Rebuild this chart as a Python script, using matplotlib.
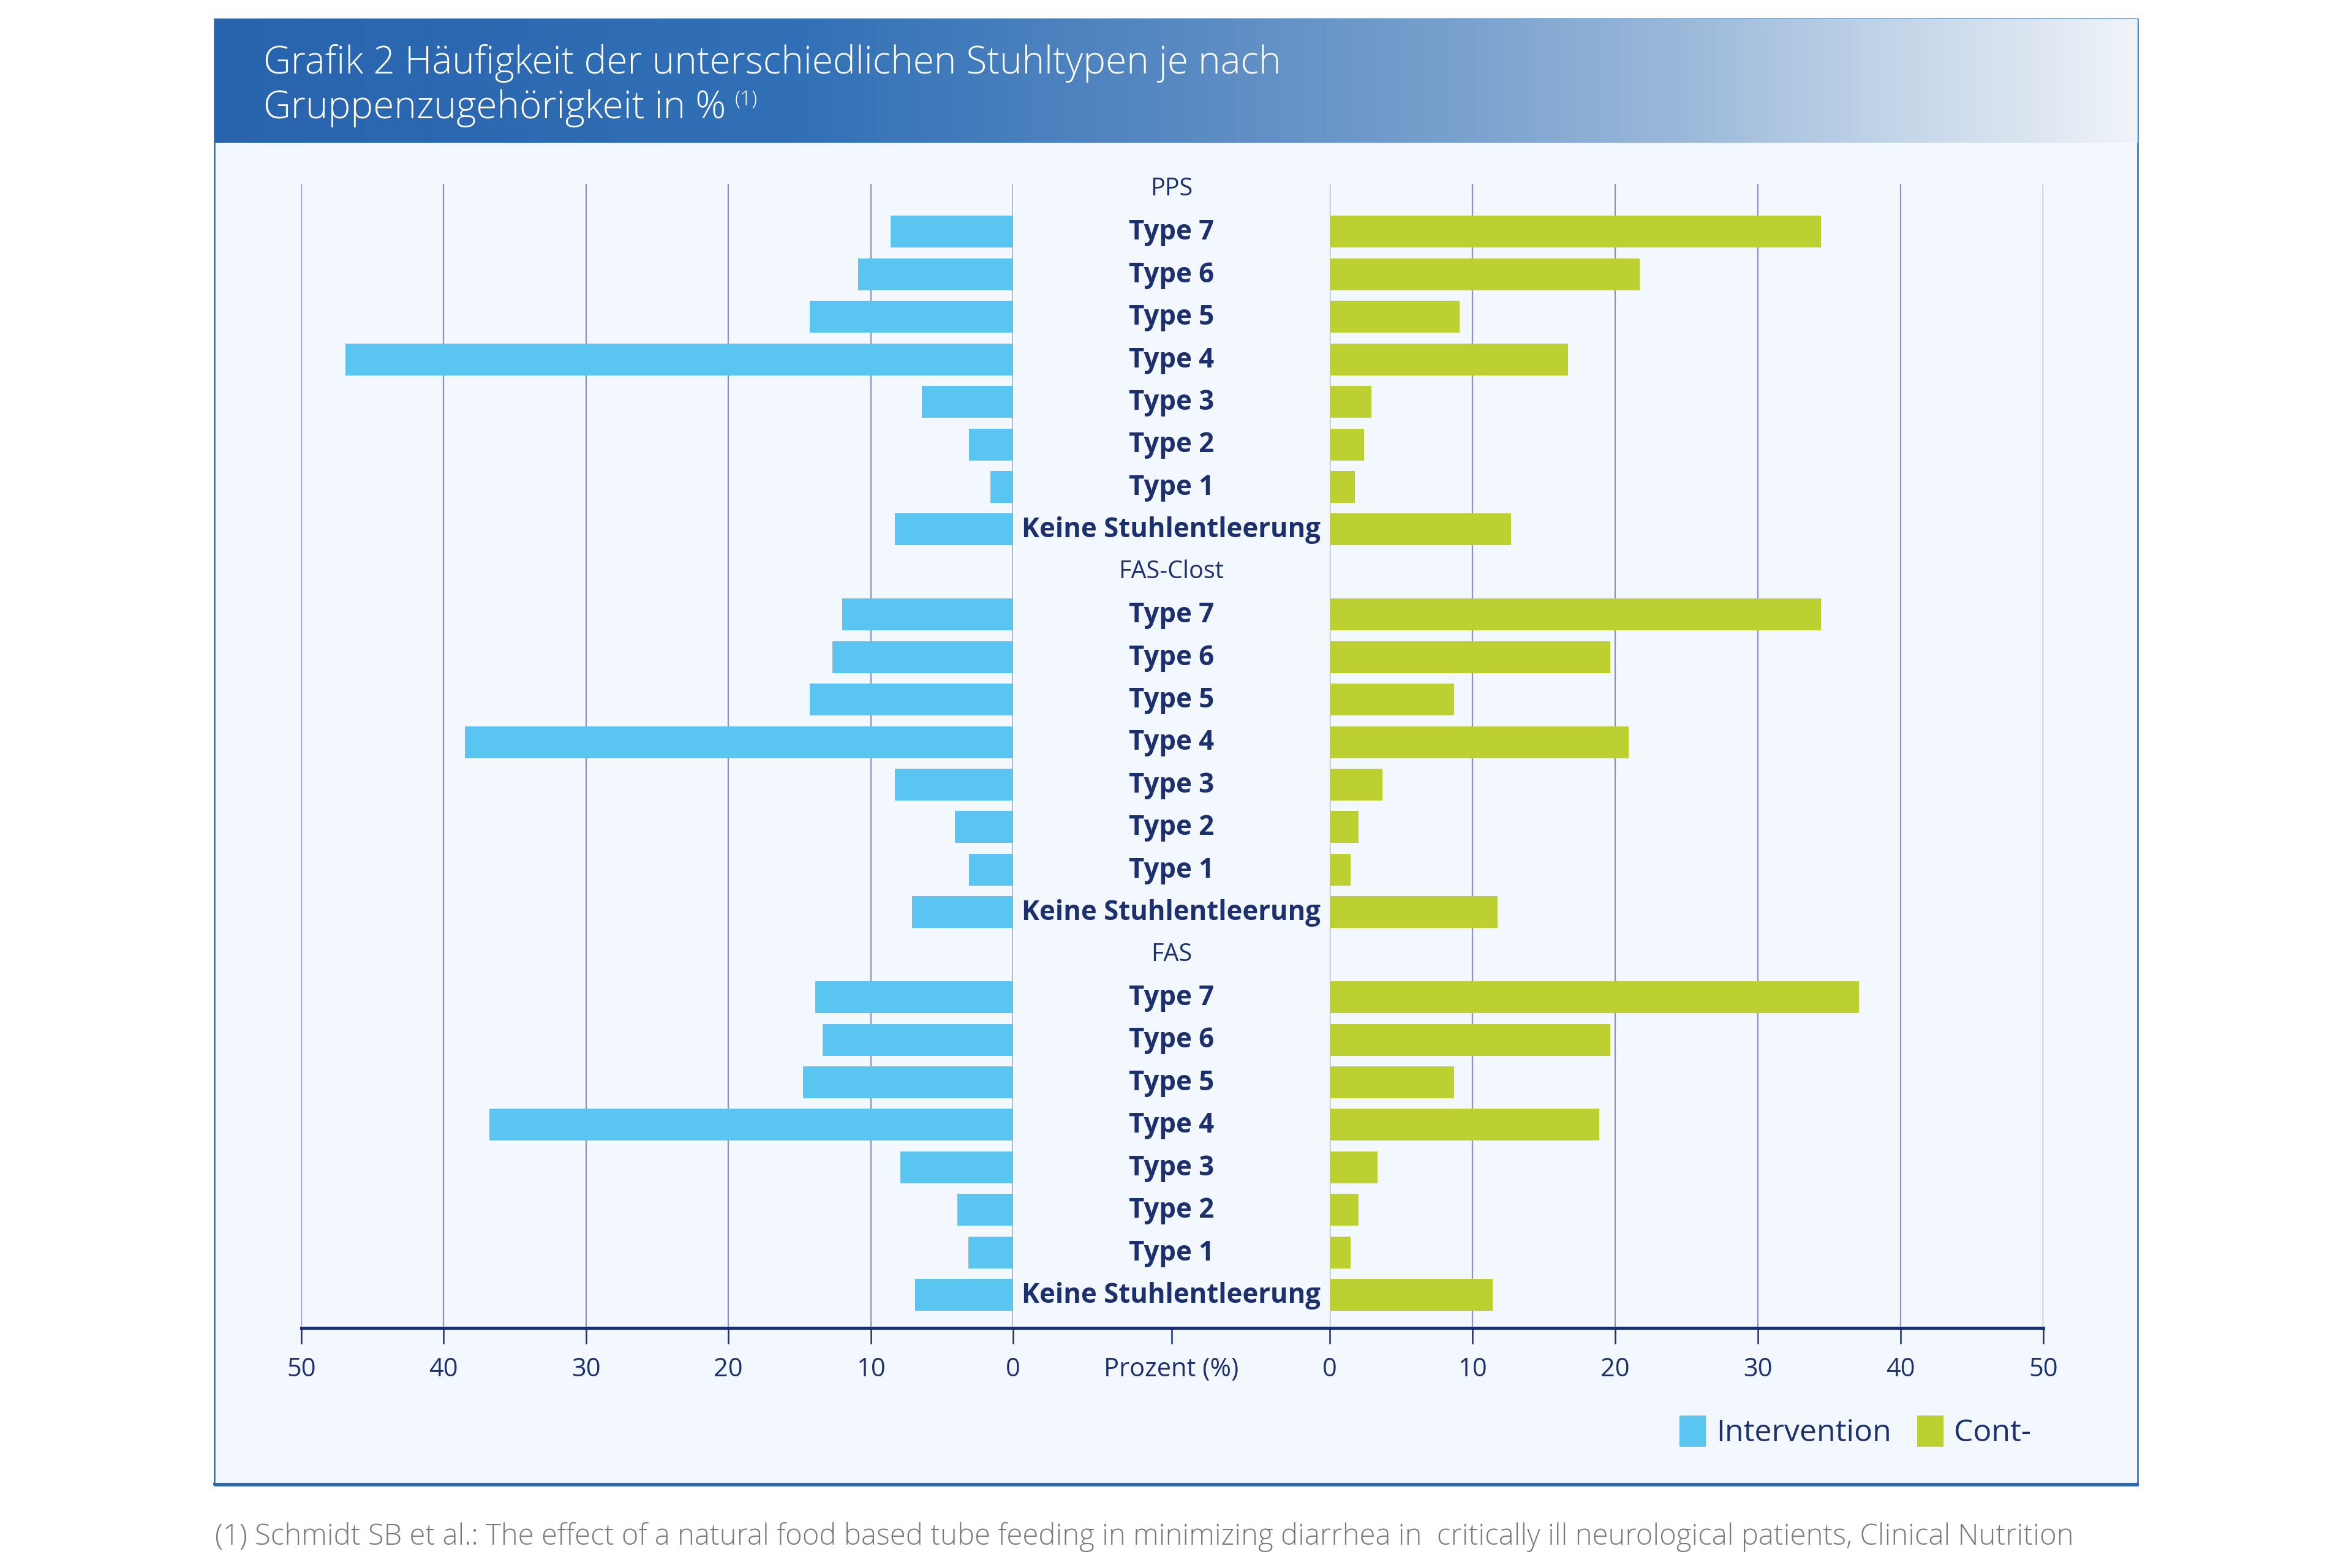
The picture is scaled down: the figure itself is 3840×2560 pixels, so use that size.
import numpy as np
import matplotlib
matplotlib.use("Agg")
import matplotlib.pyplot as plt
from matplotlib.colors import LinearSegmentedColormap
from matplotlib.patches import Rectangle, Patch
from matplotlib.lines import Line2D

# ---------------- data ----------------
groups = ["PPS", "FAS-Clost", "FAS"]
types = ["Type 7", "Type 6", "Type 5", "Type 4", "Type 3", "Type 2", "Type 1",
         "Keine Stuhlentleerung"]

intervention_pps = [8.6, 10.9, 14.3, 46.9, 6.4, 3.1, 1.6, 8.3]
control_pps = [34.4, 21.7, 9.1, 16.7, 2.9, 2.4, 1.75, 12.7]
intervention_fas_clost = [12.0, 12.7, 14.3, 38.5, 8.3, 4.1, 3.1, 7.1]
control_fas_clost = [34.4, 19.65, 8.7, 20.95, 3.7, 2.0, 1.45, 11.75]
intervention_fas = [13.9, 13.4, 14.75, 36.8, 7.9, 3.9, 3.15, 6.9]
control_fas = [37.1, 19.65, 8.7, 18.9, 3.35, 2.0, 1.45, 11.4]

x_ticks = [0, 10, 20, 30, 40, 50]
center_label = "Prozent (%)"
legend_labels = ["Intervention", "Cont-"]
title_line1 = "Grafik 2 Häufigkeit der unterschiedlichen Stuhltypen je nach"
title_line2 = "Gruppenzugehörigkeit in %"
title_ref = "(1)"
footnote = ("(1) Schmidt SB et al.: The effect of a natural food based tube feeding "
            "in minimizing diarrhea in  critically ill neurological patients, Clinical Nutrition")

# ---------------- style ----------------
FONT = "Open Sans"
NAVY = "#1c2f6e"
BLUE = "#5bc5f1"
GREEN = "#bdd031"
GRID = "#8d93c2"
BODY = "#f2f8fe"
FRAME = "#2c68b0"

W, H = 3840, 2560
fig = plt.figure(figsize=(W / 300, H / 300), dpi=300)
fig.patch.set_facecolor("white")


def fx(p):
    return p / W


def fy(p):
    return 1 - p / H


# body panel (drawn behind everything)
fig.patches.append(Rectangle((fx(350), fy(2425)), fx(3490) - fx(350), (2425 - 31) / H,
                             transform=fig.transFigure, facecolor=BODY,
                             edgecolor=FRAME, lw=0.6, zorder=-20))
fig.add_artist(Line2D([fx(350), fx(3490)], [fy(2423)] * 2, color=FRAME, lw=1.0,
                      transform=fig.transFigure, zorder=-19))

# header gradient
axh = fig.add_axes([fx(350), fy(233), fx(3490) - fx(350), (233 - 31) / H])
axh.set_zorder(-5)
cmap = LinearSegmentedColormap.from_list(
    "hdr", [(0, "#2963ae"), (0.3, "#3170b6"), (0.52, "#5b8cc3"), (0.67, "#7fa5d0"),
            (0.78, "#a0bcdc"), (0.89, "#c8d8ea"), (1.0, "#eff3f8")])
axh.imshow(np.linspace(0, 1, 512).reshape(1, -1), aspect="auto", cmap=cmap,
           extent=[0, 1, 0, 1])
axh.axis("off")

fig.text(fx(430), fy(120), title_line1, color="white", fontsize=14.9, family=FONT,
         weight="light", ha="left", va="baseline")
t2 = fig.text(fx(430), fy(193), title_line2, color="white", fontsize=14.9, family=FONT,
              weight="light", ha="left", va="baseline")
fig.canvas.draw()
bb = t2.get_window_extent()
fig.text(bb.x1 / W + fx(14), fy(172), title_ref, color="white", fontsize=8,
         family=FONT, weight="light", ha="left", va="baseline")

fig.text(fx(351), fy(2522), footnote, color="#7a7a7a", fontsize=11.33, family=FONT,
         weight="light", ha="left", va="baseline")

# ---------------- axes ----------------
y_top, y_bot = 300, 2168
row_h = 69.43
ylim = ((y_bot - 309) / row_h, -(309 - y_top) / row_h)

x_l0, x_l1 = 492, 1654
x_r0, x_r1 = 2171, 3336
ax_l = fig.add_axes([fx(x_l0), fy(y_bot), fx(x_l1) - fx(x_l0), (y_bot - y_top) / H])
ax_c = fig.add_axes([fx(x_l1), fy(y_bot), fx(x_r0) - fx(x_l1), (y_bot - y_top) / H])
ax_r = fig.add_axes([fx(x_r0), fy(y_bot), fx(x_r1) - fx(x_r0), (y_bot - y_top) / H])

series = [(intervention_pps, control_pps),
          (intervention_fas_clost, control_fas_clost),
          (intervention_fas, control_fas)]

for ax in (ax_l, ax_c, ax_r):
    ax.set_facecolor("none")
    ax.set_ylim(*ylim)
    for s in ("top", "left", "right"):
        ax.spines[s].set_visible(False)
    ax.spines["bottom"].set_color(NAVY)
    ax.spines["bottom"].set_linewidth(1.2)
    ax.tick_params(axis="x", direction="out", length=6.2, width=0.6, color=NAVY,
                   labelcolor=NAVY, labelsize=10, pad=5)
    ax.tick_params(axis="y", left=False, labelleft=False)
    ax.set_axisbelow(True)

ax_l.set_xlim(50, 0)
ax_r.set_xlim(0, 50)
ax_c.set_xlim(0, 1)
for ax in (ax_l, ax_r):
    ax.set_xticks(x_ticks)
    ax.set_xticklabels([str(v) for v in x_ticks])
    ax.grid(axis="x", color=GRID, lw=0.55)
ax_c.set_xticks([0.5])
ax_c.set_xticklabels([center_label])

for g, (grp, (iv, cv)) in enumerate(zip(groups, series)):
    base = g * 9
    ax_c.text(0.5, base, grp, ha="center", va="center", color=NAVY, fontsize=9.5,
              family=FONT)
    rows = [base + 1 + i for i in range(len(types))]
    ax_l.barh(rows, iv, height=0.75, color=BLUE, zorder=2)
    ax_r.barh(rows, cv, height=0.75, color=GREEN, zorder=2)
    for r, lab in zip(rows, types):
        ax_c.text(0.5, r + 0.02, lab, ha="center", va="center", color=NAVY,
                  fontsize=10.5, family=FONT, weight="bold")

for ax in (ax_l, ax_c, ax_r):
    for lab in ax.get_xticklabels():
        lab.set_family(FONT)

# legend
handles = [Patch(facecolor=BLUE), Patch(facecolor=GREEN)]
leg = fig.legend(handles, legend_labels, loc="center left",
                 bbox_to_anchor=(fx(2742), fy(2338)), ncol=2, frameon=False,
                 borderpad=0, borderaxespad=0, handlelength=0.85, handleheight=1.2,
                 handletextpad=0.35, columnspacing=0.85,
                 prop={"family": FONT, "size": 12})
for t in leg.get_texts():
    t.set_color(NAVY)

fig.savefig("out.png", dpi=300, facecolor=fig.get_facecolor())
